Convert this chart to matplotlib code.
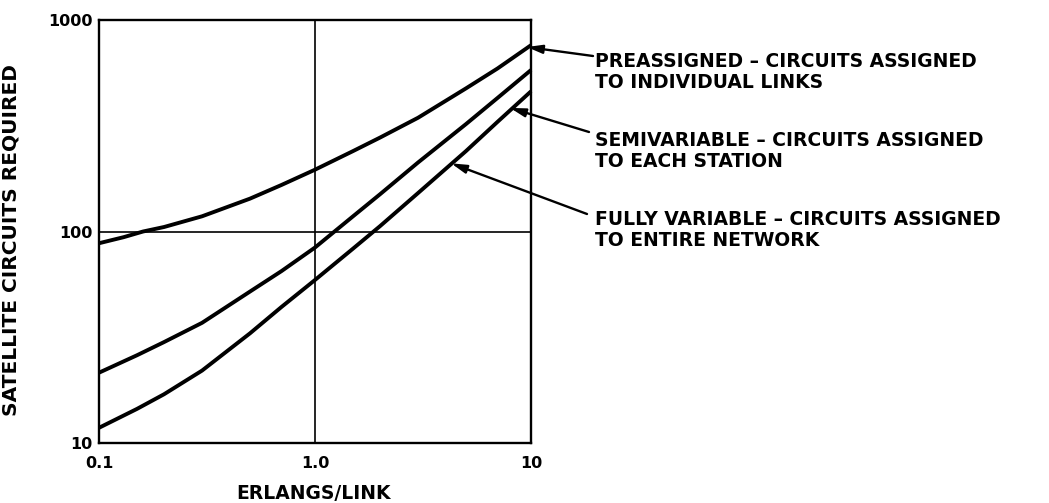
import numpy as np
import matplotlib
matplotlib.use('Agg')
import matplotlib.pyplot as plt

# Erlangs per link and satellite circuits required
erl_pre = [0.1, 0.13, 0.16, 0.2, 0.3, 0.5, 0.7, 1.0, 1.5, 2.0, 3.0, 5.0, 7.0, 10.0]
pre = [88, 94, 100, 105, 118, 143, 166, 196, 240, 278, 345, 475, 590, 760]

erl_semi = [0.1, 0.15, 0.2, 0.3, 0.5, 0.7, 1.0, 1.5, 2.0, 3.0, 5.0, 7.0, 10.0]
semi = [21.5, 26, 30, 37, 52, 65, 84, 118, 150, 212, 322, 428, 580]

erl_full = [0.1, 0.15, 0.2, 0.3, 0.5, 0.7, 1.0, 1.5, 2.0, 3.0, 5.0, 7.0, 10.0]
full = [11.8, 14.5, 17, 22, 33, 44, 59, 83, 106, 152, 240, 330, 460]

labels = [
    "PREASSIGNED \u2013 CIRCUITS ASSIGNED\nTO INDIVIDUAL LINKS",
    "SEMIVARIABLE \u2013 CIRCUITS ASSIGNED\nTO EACH STATION",
    "FULLY VARIABLE \u2013 CIRCUITS ASSIGNED\nTO ENTIRE NETWORK",
]
# where each leader arrow ends (data units)
tips = [(9.57, 745), (8.0, 384), (4.27, 210)]

xticks = [0.1, 1.0, 10]
xticklabels = ['0.1', '1.0', '10']
yticks = [10, 100, 1000]
yticklabels = ['10', '100', '1000']

plt.rcParams['font.family'] = ['DejaVu Sans']
plt.rcParams['font.weight'] = 'bold'


def main():
    W, H = 1049, 503
    fig = plt.figure(figsize=(W / 100, H / 100), dpi=100)
    ax = fig.add_axes([99 / W, 1 - 443 / H, 432 / W, 423 / H])
    ax.set_xscale('log')
    ax.set_yscale('log')
    ax.set_xlim(0.1, 10)
    ax.set_ylim(10, 1000)

    for x, y in ((erl_pre, pre), (erl_semi, semi), (erl_full, full)):
        ax.plot(x, y, color='black', lw=2.8, solid_capstyle='butt',
                solid_joinstyle='round', clip_on=False, zorder=3)

    ax.axvline(1.0, color='black', lw=1.2, zorder=1)
    ax.axhline(100, color='black', lw=1.2, zorder=1)

    for sp in ax.spines.values():
        sp.set_linewidth(1.7)

    ax.set_xticks(xticks)
    ax.set_xticklabels(xticklabels)
    ax.set_yticks(yticks)
    ax.set_yticklabels(yticklabels)
    ax.minorticks_off()
    ax.tick_params(length=0, labelsize=11.5, pad=4.5)
    ax.tick_params(axis='x', pad=9)
    for t in ax.get_xticklabels() + ax.get_yticklabels():
        t.set_fontweight('bold')

    ax.set_xlabel("ERLANGS/LINK", fontsize=13.5, fontweight='bold')
    ax.xaxis.set_label_coords(0.497, (443 - 484) / 423)
    ax.set_ylabel("SATELLITE CIRCUITS REQUIRED", fontsize=14.5,
                  fontweight='bold')
    ax.yaxis.set_label_coords((21 - 99) / 432, 0.48)

    # annotations: text blocks at the right, leader lines to the curves
    text_pos = [(595, 72), (595, 151), (595, 230)]
    tails = [(593, 56), (589, 132), (587, 214)]
    for lab, (tx, ty), (lx, ly), tip in zip(labels, text_pos, tails, tips):
        fig.text(tx / W, 1 - ty / H, lab, fontsize=13.5, fontweight='bold',
                 va='center', ha='left', linespacing=1.1)
        ax.annotate('', xy=tip, xycoords='data',
                    xytext=(lx / W, 1 - ly / H),
                    textcoords='figure fraction',
                    arrowprops=dict(arrowstyle='-|>,head_length=0.9,head_width=0.25',
                                    color='black', lw=1.7,
                                    shrinkA=0, shrinkB=0),
                    annotation_clip=False)

    fig.savefig('out.png', dpi=100)


if __name__ == '__main__':
    main()
